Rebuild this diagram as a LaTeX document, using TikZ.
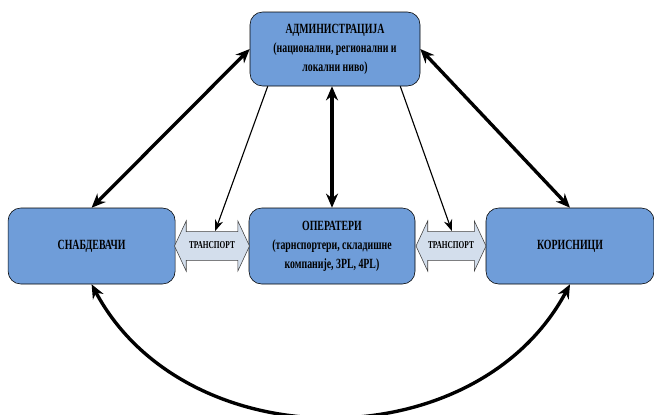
\documentclass[tikz,border=0pt]{standalone}
\usepackage{fontspec}
\setmainfont{Liberation Serif}[FakeStretch=0.7]
\usetikzlibrary{shapes.arrows,arrows.meta,calc}
\definecolor{kutijaplava}{RGB}{111,157,217}
\definecolor{transportplava}{RGB}{211,222,236}

\begin{document}
\begin{tikzpicture}[
	kutija/.style={draw=black,thin,fill=kutijaplava,rounded corners=9pt,align=center,
		font=\bfseries\fontsize{10}{13.5}\selectfont},
	transport/.style={draw=black!75,fill=transportplava,shape=double arrow,
		double arrow head extend=0.27cm,double arrow tip angle=130,
		inner xsep=0pt,inner ysep=6.5pt,text height=5.5pt,text depth=1.5pt,
		font=\bfseries\fontsize{7.5}{8}\selectfont},
	debela/.style={line width=2.4pt,{Stealth[length=10pt,width=8.5pt]}-{Stealth[length=10pt,width=8.5pt]}},
	tanka/.style={line width=0.8pt,-{Stealth[length=8pt,width=6pt]}}]
	\useasboundingbox (0,0) rectangle (16.35,10.35);
	\node[kutija,minimum width=4.25cm,minimum height=1.85cm] (admin) at (8.375,9.125)
		{АДМИНИСТРАЦИЈА\\(национални, регионални и\\локални ниво)};
	\node[kutija,minimum width=4.175cm,minimum height=1.9cm] (snabd) at (2.29,4.2) {СНАБДЕВАЧИ};
	\node[kutija,minimum width=4.15cm,minimum height=1.9cm] (oper) at (8.3,4.2)
		{ОПЕРАТЕРИ\\(тарнспортери, складишне\\компаније, 3PL, 4PL)};
	\node[kutija,minimum width=4.2cm,minimum height=1.9cm] (koris) at (14.25,4.2) {КОРИСНИЦИ};
	\node[transport,minimum height=1.875cm] (trans1) at (5.3,4.2) {ТРАНСПОРТ};
	\node[transport,minimum height=1.75cm] (trans2) at (11.275,4.2) {ТРАНСПОРТ};
	\coordinate (t1) at ($(trans1.center)+(0.08,0.375)$);
	\coordinate (t2) at ($(trans2.center)+(0.02,0.375)$);
	\draw[debela] (admin.west) -- (snabd.north);
	\draw[debela] (admin.east) -- (koris.north);
	\draw[debela] (admin.south -| oper.north) -- (oper.north);
	\draw[tanka] ($(admin.south west)+(0.45,0)$) -- (t1);
	\draw[tanka] ($(admin.south east)+(-0.5,0)$) -- (t2);
	\draw[debela] (snabd.south) .. controls +(2.35,-4.4) and +(-2.35,-4.4) .. (koris.south);
\end{tikzpicture}
\end{document}
